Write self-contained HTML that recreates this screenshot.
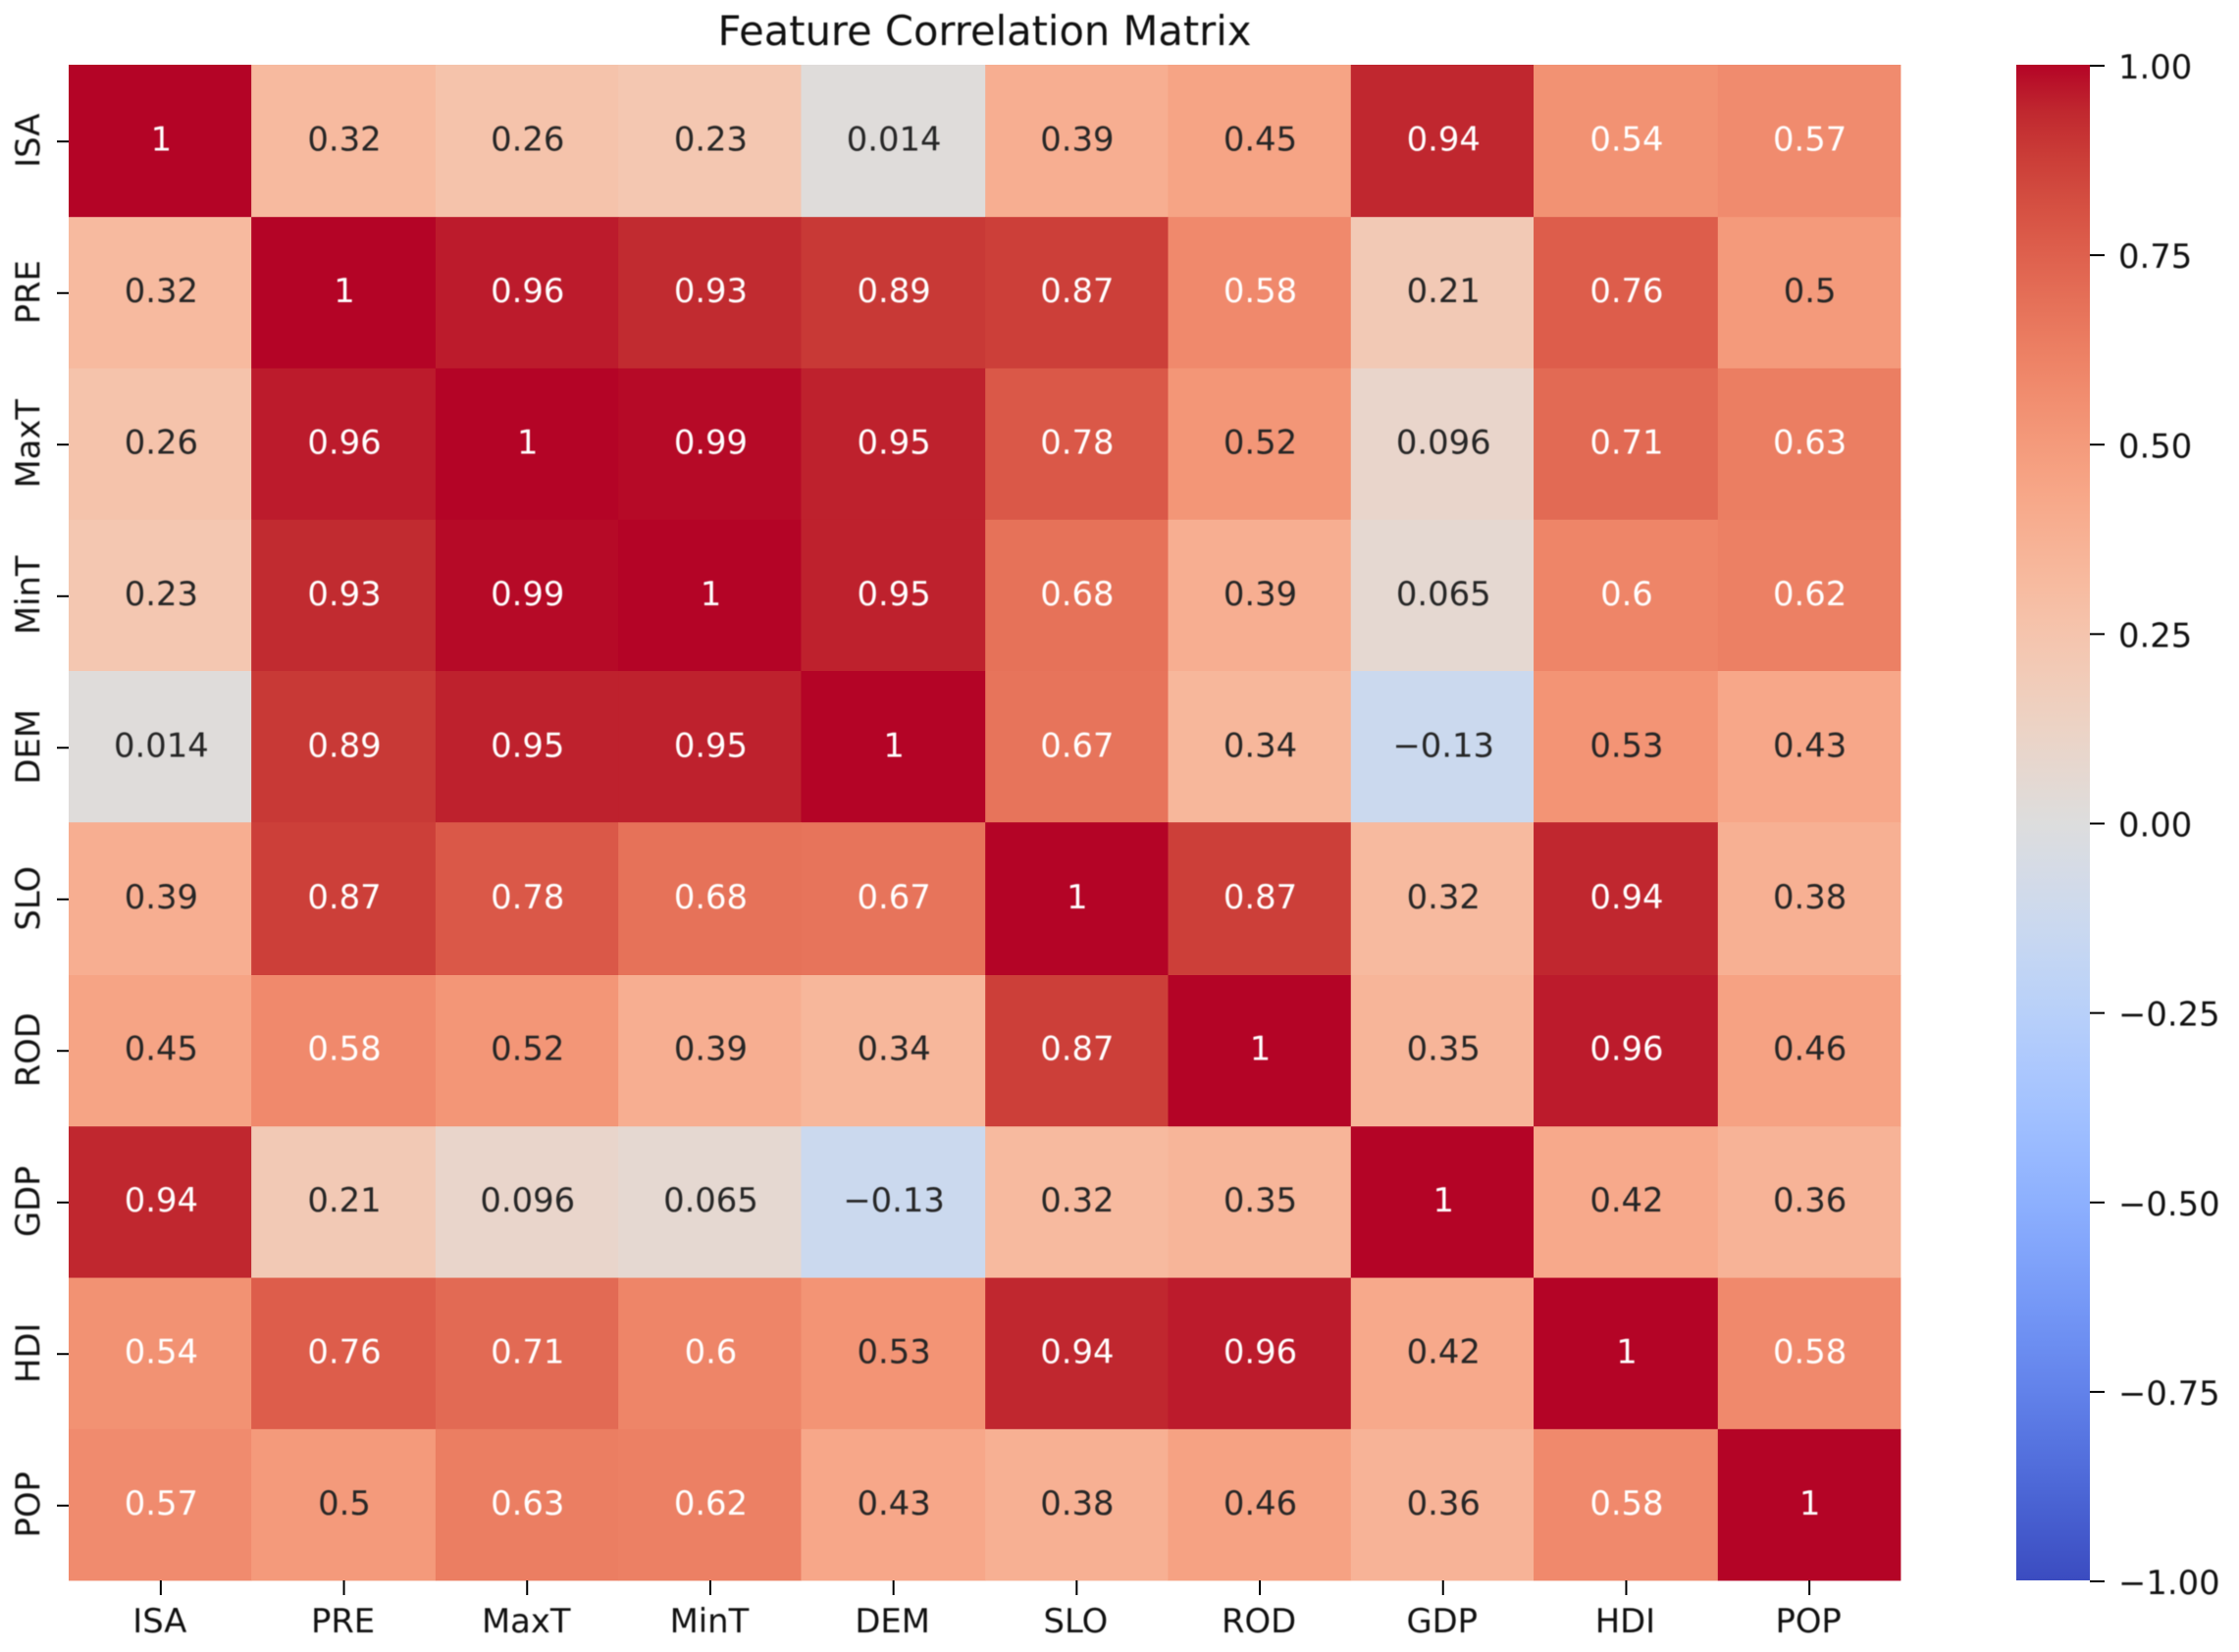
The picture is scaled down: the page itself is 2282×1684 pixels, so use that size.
<!DOCTYPE html>
<html lang="en">
<head>
<meta charset="utf-8">
<title>Feature Correlation Matrix</title>
<style>
html,body{margin:0;padding:0;background:#fff;width:2282px;height:1684px;overflow:hidden}
svg{display:block}
text{font-family:"DejaVu Sans","Liberation Sans",sans-serif;font-size:33.8px;filter:blur(0.6px)}
</style>
</head>
<body>
<svg id="chart" xmlns="http://www.w3.org/2000/svg" width="2282" height="1684" viewBox="0 0 2282 1684">
<rect x="0" y="0" width="2282" height="1684" fill="#ffffff"/>
<text x="1003.5" y="46" text-anchor="middle" style="font-size:41.6px" fill="#111">Feature Correlation Matrix</text>
<g id="cells"></g>
<g id="annots"></g>
<g id="xaxis"></g>
<g id="yaxis"></g>
<g id="colorbar"></g>
</svg>
<script>
const categories = ["ISA","PRE","MaxT","MinT","DEM","SLO","ROD","GDP","HDI","POP"];
const rowISA  = [1,0.32,0.26,0.23,0.014,0.39,0.45,0.94,0.54,0.57];
const rowPRE  = [0.32,1,0.96,0.93,0.89,0.87,0.58,0.21,0.76,0.5];
const rowMaxT = [0.26,0.96,1,0.99,0.95,0.78,0.52,0.096,0.71,0.63];
const rowMinT = [0.23,0.93,0.99,1,0.95,0.68,0.39,0.065,0.6,0.62];
const rowDEM  = [0.014,0.89,0.95,0.95,1,0.67,0.34,-0.13,0.53,0.43];
const rowSLO  = [0.39,0.87,0.78,0.68,0.67,1,0.87,0.32,0.94,0.38];
const rowROD  = [0.45,0.58,0.52,0.39,0.34,0.87,1,0.35,0.96,0.46];
const rowGDP  = [0.94,0.21,0.096,0.065,-0.13,0.32,0.35,1,0.42,0.36];
const rowHDI  = [0.54,0.76,0.71,0.6,0.53,0.94,0.96,0.42,1,0.58];
const rowPOP  = [0.57,0.5,0.63,0.62,0.43,0.38,0.46,0.36,0.58,1];
const matrix = [rowISA,rowPRE,rowMaxT,rowMinT,rowDEM,rowSLO,rowROD,rowGDP,rowHDI,rowPOP];
const colorbarTicks = [1,0.75,0.5,0.25,0,-0.25,-0.5,-0.75,-1];
const vmin = -1;
const vmax = 1;
const coolwarm = [[59,76,192],[68,90,204],[77,104,215],[87,117,225],[98,130,234],[108,142,241],[119,154,247],[130,165,251],[141,176,254],[152,185,255],[163,194,255],[174,201,253],[184,208,249],[194,213,244],[204,217,238],[213,219,230],[221,221,221],[229,216,209],[236,211,197],[241,204,185],[245,196,173],[247,187,160],[247,177,148],[247,166,135],[244,154,123],[241,141,111],[236,127,99],[229,112,88],[222,96,77],[213,80,66],[203,62,56],[192,40,47],[180,4,38]];

const SVGNS = "http://www.w3.org/2000/svg";
const RASTER = 2282 / 1568;
const plotLeft = 70, plotRight = 1937, plotTop = 66, plotBottom = 1611;
const cbLeft = 2055, cbRight = 2130;

function rgbFor(v) {
  const t = Math.max(0, Math.min(1, (v - vmin) / (vmax - vmin))) * (coolwarm.length - 1);
  const i = Math.min(Math.floor(t), coolwarm.length - 2);
  const f = t - i;
  return [0,1,2].map(k => coolwarm[i][k] + (coolwarm[i + 1][k] - coolwarm[i][k]) * f);
}
function css(rgb) { return "rgb(" + rgb.map(c => Math.round(c)).join(",") + ")"; }
function luminance(rgb) {
  const l = rgb.map(c => { c /= 255; return c <= 0.03928 ? c / 12.92 : Math.pow((c + 0.055) / 1.055, 2.4); });
  return 0.2126 * l[0] + 0.7152 * l[1] + 0.0722 * l[2];
}
// Band edges follow the source raster's pixel grid, so cells are very slightly uneven.
function xEdge(i) { return i === 0 ? plotLeft : i === categories.length ? plotRight : Math.round(48.1 + 128.28 * i) * RASTER; }
function yEdge(i) { return i === 0 ? plotTop : i === categories.length ? plotBottom : Math.round(45.7 + 106.15 * i) * RASTER; }
function xCenter(i) { return plotLeft + (i + 0.5) * (plotRight - plotLeft) / categories.length; }
function yCenter(i) { return plotTop + (i + 0.5) * (plotBottom - plotTop) / categories.length; }
function cbY(v) { return plotTop + (vmax - v) / (vmax - vmin) * (plotBottom - plotTop); }
function fmt(v) { return String(v).replace("-", "\u2212"); }
function make(tag, attrs, parent, txt) {
  const n = document.createElementNS(SVGNS, tag);
  for (const k in attrs) n.setAttribute(k, attrs[k]);
  if (txt !== undefined) n.textContent = txt;
  parent.appendChild(n);
  return n;
}

const cellsG = document.getElementById("cells");
const annotsG = document.getElementById("annots");
const xG = document.getElementById("xaxis");
const yG = document.getElementById("yaxis");
const cbG = document.getElementById("colorbar");

matrix.forEach((row, r) => {
  row.forEach((v, c) => {
    const rgb = rgbFor(v);
    const cell = make("rect", {x: xEdge(c), y: yEdge(r), width: xEdge(c + 1) - xEdge(c) + 0.4, height: yEdge(r + 1) - yEdge(r) + 0.4, fill: css(rgb)}, cellsG);
    
    
    const label = make("text", {x: xCenter(c) + 1, y: yCenter(r) + 10, "text-anchor": "middle", fill: luminance(rgb) < 0.408 ? "#ffffff" : "#262626"}, annotsG, fmt(v));
    
    
  });
});

categories.forEach((name, i) => {
  const xt = make("line", {x1: xCenter(i) + 0.5, x2: xCenter(i) + 0.5, y1: plotBottom, y2: plotBottom + 15, stroke: "#000", "stroke-width": 2}, xG);
  
  
  const xl = make("text", {x: xCenter(i) - 0.5, y: 1664, "text-anchor": "middle", fill: "#111"}, xG, name);
  
  
  const yt = make("line", {x1: plotLeft - 12, x2: plotLeft, y1: yCenter(i) + 1, y2: yCenter(i) + 1, stroke: "#000", "stroke-width": 2}, yG);
  
  
  const ly = yCenter(i);
  const yl = make("text", {x: 40, y: ly, "text-anchor": "middle", fill: "#111", transform: "rotate(-90 40 " + ly + ")"}, yG, name);
  
  
});

const defs = make("defs", {}, cbG);
const grad = make("linearGradient", {id: "cbGrad", x1: 0, y1: 1, x2: 0, y2: 0}, defs);
coolwarm.forEach((c, i) => {
  const stop = make("stop", {offset: i / (coolwarm.length - 1), "stop-color": css(c)}, grad);
  
  
});
const bar = make("rect", {x: cbLeft, y: cbY(vmax), width: cbRight - cbLeft, height: cbY(vmin) - cbY(vmax), fill: "url(#cbGrad)"}, cbG);


colorbarTicks.forEach(v => {
  const t = make("line", {x1: cbRight, x2: cbRight + 15, y1: cbY(v) + 1, y2: cbY(v) + 1, stroke: "#000", "stroke-width": 2}, cbG);
  
  
  const l = make("text", {x: 2159, y: cbY(v) + 14, fill: "#111"}, cbG, fmt(v.toFixed(2)));
  
  
});
</script>
</body>
</html>
